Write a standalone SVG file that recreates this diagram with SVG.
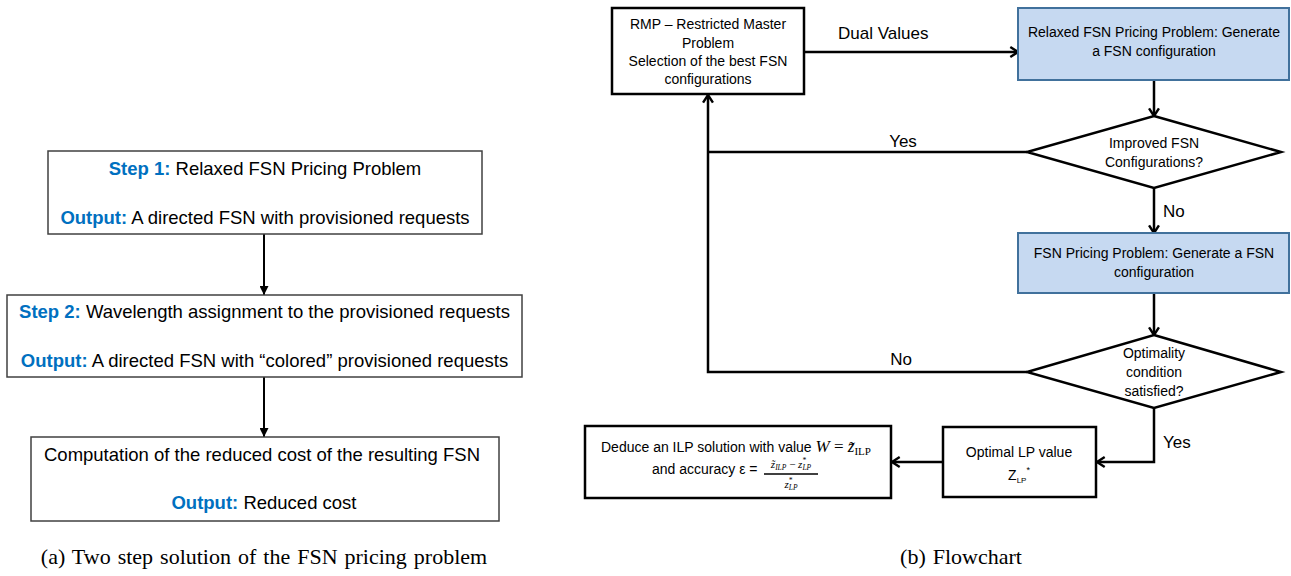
<svg xmlns="http://www.w3.org/2000/svg" width="1291" height="576" viewBox="0 0 1291 576">
<style>
.sans{font-family:"Liberation Sans",Arial,sans-serif;fill:#000}
.l18{font-size:18.5px}
.r14{font-size:14px}
.lab{font-size:17px}
.blue{fill:#0070c0;font-weight:bold}
.cap{font-family:"Liberation Serif","Times New Roman",serif;font-size:22px;word-spacing:1.5px;fill:#000}
.lbox{fill:#fff;stroke:#404040;stroke-width:1.5}
.rbox{fill:#fff;stroke:#000;stroke-width:2.5}
.bbox{fill:#c6d9f1;stroke:#41719c;stroke-width:2}
.dia{fill:#fff;stroke:#000;stroke-width:2.5}
.lc{fill:none;stroke:#000;stroke-width:2}
.rc{fill:none;stroke:#000;stroke-width:2.5}
.m{font-family:"Liberation Serif","Times New Roman",serif;font-style:italic}
</style>
<defs>
<marker id="fa" viewBox="0 0 10 10" refX="10" refY="5" markerWidth="9" markerHeight="9" markerUnits="userSpaceOnUse" orient="auto">
<path d="M0,0 L10,5 L0,10 z" fill="#000"/>
</marker>
<marker id="oa" viewBox="0 0 10 10" refX="9" refY="5" markerWidth="11" markerHeight="11" markerUnits="userSpaceOnUse" orient="auto" overflow="visible">
<path d="M2,0.5 L9,5 L2,9.5" fill="none" stroke="#000" stroke-width="2.2"/>
</marker>
</defs>

<g id="connectors">
<line class="lc" x1="264" y1="234" x2="264" y2="295" marker-end="url(#fa)"/>
<line class="lc" x1="264" y1="377" x2="264" y2="437" marker-end="url(#fa)"/>
<line class="rc" x1="805" y1="52" x2="1018" y2="52" marker-end="url(#oa)"/>
<line class="rc" x1="1154" y1="80" x2="1154" y2="116" marker-end="url(#oa)"/>
<line class="rc" x1="1154" y1="188" x2="1154" y2="233" marker-end="url(#oa)"/>
<line class="rc" x1="1154" y1="293" x2="1154" y2="335" marker-end="url(#oa)"/>
<polyline class="rc" points="1027,152 708,152"/>
<polyline class="rc" points="1027,372 708,372 708,95" marker-end="url(#oa)"/>
<polyline class="rc" points="1154,408 1154,462 1097,462" marker-end="url(#oa)"/>
<line class="rc" x1="943" y1="462" x2="892" y2="462" marker-end="url(#oa)"/>
<text class="sans lab" x="838" y="39">Dual Values</text>
<text class="sans lab" x="903" y="147" text-anchor="middle">Yes</text>
<text class="sans lab" x="1163" y="217">No</text>
<text class="sans lab" x="901" y="365" text-anchor="middle">No</text>
<text class="sans lab" x="1163" y="448">Yes</text>
</g>

<g id="step1">
<rect class="lbox" x="48" y="151" width="434" height="83"/>
<text class="sans l18" x="265" y="175" text-anchor="middle"><tspan class="blue">Step 1:</tspan> Relaxed FSN Pricing Problem</text>
<text class="sans l18" x="265" y="224" text-anchor="middle"><tspan class="blue">Output:</tspan> A directed FSN with provisioned requests</text>
</g>
<g id="step2">
<rect class="lbox" x="7" y="295" width="515" height="82"/>
<text class="sans l18" x="264.5" y="318" text-anchor="middle"><tspan class="blue">Step 2:</tspan> Wavelength assignment to the provisioned requests</text>
<text class="sans l18" x="264.5" y="367" text-anchor="middle"><tspan class="blue">Output:</tspan> A directed FSN with “colored” provisioned requests</text>
</g>
<g id="step3">
<rect class="lbox" x="31" y="437" width="468" height="84"/>
<text class="sans l18" x="262" y="461" text-anchor="middle">Computation of the reduced cost of the resulting FSN</text>
<text class="sans l18" x="264" y="509" text-anchor="middle"><tspan class="blue">Output:</tspan> Reduced cost</text>
</g>
<text class="cap" x="264" y="564" text-anchor="middle">(a) Two step solution of the FSN pricing problem</text>

<g id="rmp">
<rect class="rbox" x="612" y="8" width="192" height="86"/>
<text class="sans r14" x="708" y="29" text-anchor="middle">RMP – Restricted Master</text>
<text class="sans r14" x="708" y="48" text-anchor="middle">Problem</text>
<text class="sans r14" x="708" y="66" text-anchor="middle">Selection of the best FSN</text>
<text class="sans r14" x="708" y="84" text-anchor="middle">configurations</text>
</g>
<g id="relaxed">
<rect class="bbox" x="1018" y="8" width="271" height="72"/>
<text class="sans r14" x="1154" y="37" text-anchor="middle">Relaxed FSN Pricing Problem: Generate</text>
<text class="sans r14" x="1154" y="56" text-anchor="middle">a FSN configuration</text>
</g>
<g id="improved">
<polygon class="dia" points="1154,116 1281,152 1154,188 1027,152"/>
<text class="sans r14" x="1154" y="148" text-anchor="middle">Improved FSN</text>
<text class="sans r14" x="1154" y="167" text-anchor="middle">Configurations?</text>
</g>
<g id="pricing">
<rect class="bbox" x="1018" y="233" width="271" height="60"/>
<text class="sans r14" x="1154" y="258" text-anchor="middle">FSN Pricing Problem: Generate a FSN</text>
<text class="sans r14" x="1154" y="277" text-anchor="middle">configuration</text>
</g>
<g id="optimality">
<polygon class="dia" points="1154,335 1281,372 1154,408 1027,372"/>
<text class="sans r14" x="1154" y="358" text-anchor="middle">Optimality</text>
<text class="sans r14" x="1154" y="377" text-anchor="middle">condition</text>
<text class="sans r14" x="1154" y="396" text-anchor="middle">satisfied?</text>
</g>
<g id="optimal">
<rect class="rbox" x="943" y="427" width="153" height="70"/>
<text class="sans r14" x="1019" y="457" text-anchor="middle">Optimal LP value</text>
<text class="sans r14" x="1019" y="480" text-anchor="middle">Z<tspan font-size="8" dy="3">LP</tspan><tspan font-size="9" dy="-10">*</tspan></text>
</g>
<g id="deduce">
<rect class="rbox" x="585" y="426" width="306" height="72"/>
<text class="sans r14" x="601" y="452">Deduce an ILP solution with value <tspan class="m" font-size="17">W</tspan><tspan font-family="Liberation Serif" font-size="17"> = </tspan><tspan class="m" font-size="17">z̃</tspan><tspan font-family="Liberation Serif" font-size="11" dy="3">ILP</tspan></text>
<text class="sans r14" x="652" y="474">and accuracy ε =</text>
<text class="m" font-size="11" x="791" y="468" text-anchor="middle">z̃<tspan font-size="7.5" dy="2">ILP</tspan><tspan font-style="normal" dy="-2"> − </tspan>z<tspan font-size="7.5" dy="2">LP</tspan><tspan font-size="7.5" dx="-9" dy="-7">*</tspan></text>
<line x1="764" y1="474" x2="818" y2="474" stroke="#000" stroke-width="1.4"/>
<text class="m" font-size="11" x="791" y="488" text-anchor="middle">z<tspan font-size="7.5" dy="2">LP</tspan><tspan font-size="7.5" dx="-9" dy="-7">*</tspan></text>
</g>
<text class="cap" x="961" y="564" text-anchor="middle">(b) Flowchart</text>
</svg>
